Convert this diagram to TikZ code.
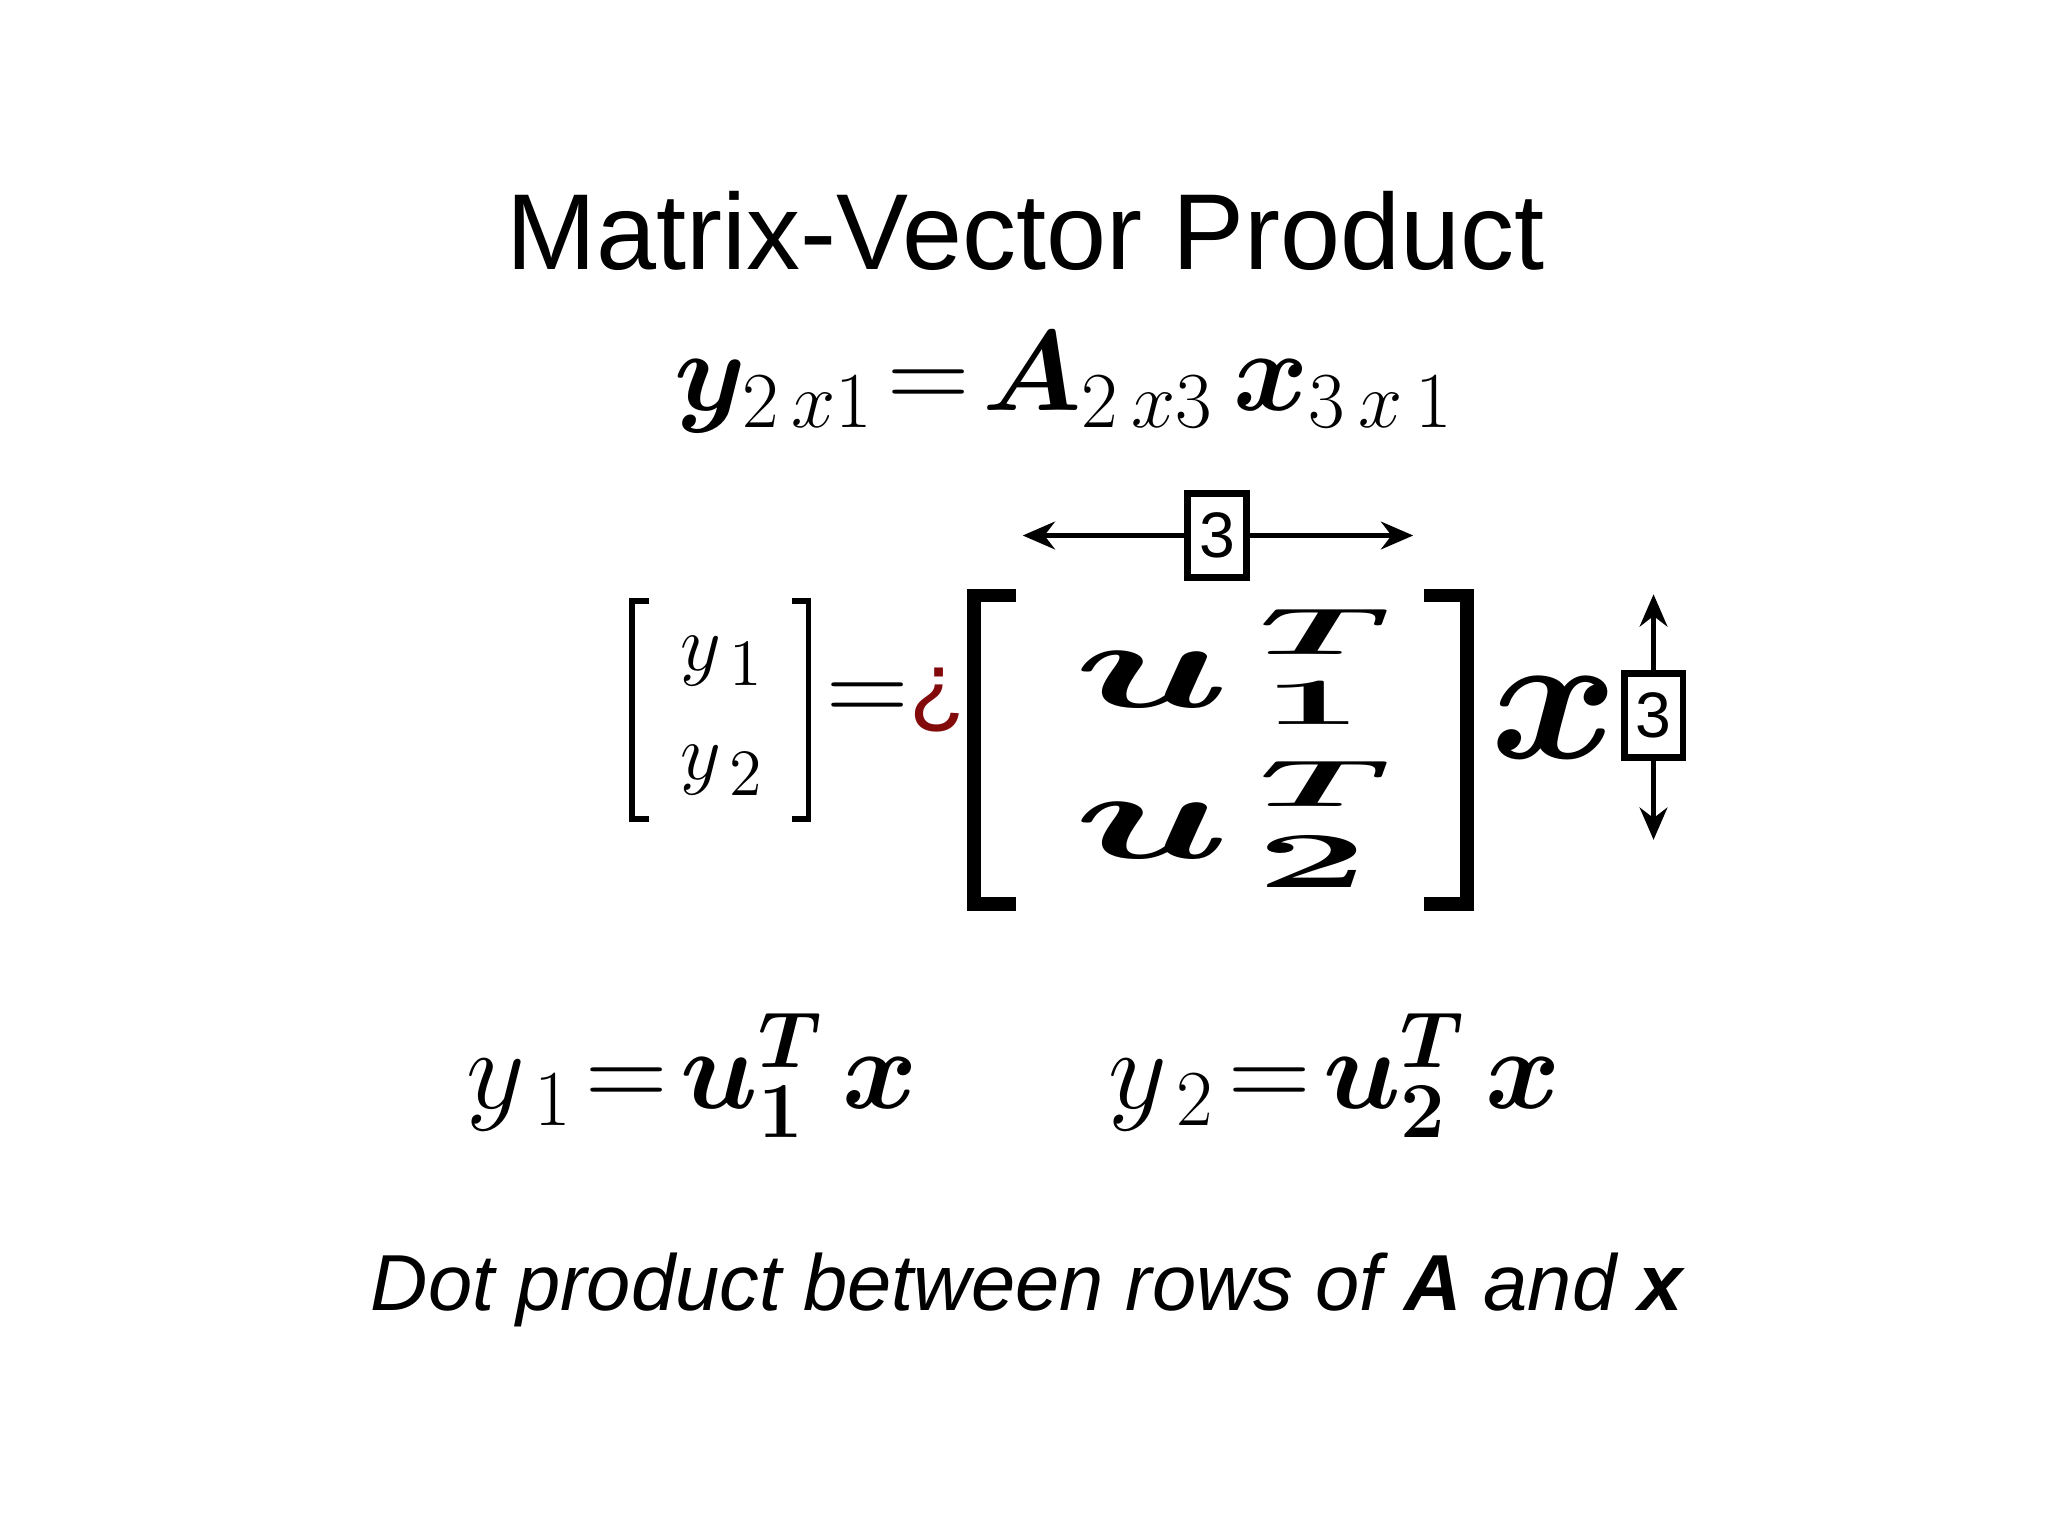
\documentclass[tikz,border=0pt]{standalone}
\usepackage{fontspec}
\setmainfont{Liberation Sans}
\usepackage{amsmath,bm,graphicx}
\usetikzlibrary{arrows.meta}
\definecolor{qred}{RGB}{130,10,10}
\begin{document}
\begin{tikzpicture}[x=0.01cm,y=-0.01cm,
  t/.style={inner sep=0pt,anchor=center},
  br/.style={line width=3pt},
  brs/.style={line width=1.3pt},
  dim/.style={line width=1.2pt,-{Stealth[length=7pt,width=6pt]}},
  numbox/.style={draw,line width=1.5pt,minimum width=0.45cm,minimum height=0.64cm,inner sep=0pt,font=\fontsize{14}{14}\selectfont,fill=white}]
\useasboundingbox (0,0) rectangle (1568,1176);
\node[t] (title) at (785,177) {\fontsize{23.5}{23.5}\selectfont Matrix-Vector Product};
\node[t] (eq) at (815,293) {\fontsize{25}{25}\selectfont $\bm{y}_{2\,x1}\!=\!\bm{A}_{2\,x3}\,\bm{x}_{3\,x\,1}$};
% small bracket
\draw[brs] (497,460) -- (484,460) -- (484,627) -- (497,627);
\draw[brs] (606,460) -- (619,460) -- (619,627) -- (606,627);
\node[t] (y1) at (553,506) {\fontsize{19}{19}\selectfont $y_{\,1}$};
\node[t] (y2) at (553,590) {\fontsize{19}{19}\selectfont $y_{\,2}$};
\node[t] (eqs) at (664,538) {\fontsize{24}{24}\selectfont $=$};
\node[t,text=qred] (q) at (718,536) {\fontsize{20}{20}\selectfont ¿};
% big bracket
\draw[br] (778,456) -- (746,456) -- (746,692) -- (778,692);
\draw[br] (1090,456) -- (1123,456) -- (1123,692) -- (1090,692);
\node[t] (u1) at (882,520) {\scalebox{2}[1.1]{\fontsize{34}{34}\selectfont $\bm{u}$}};
\node[t] (u2) at (882,636) {\scalebox{2}[1.1]{\fontsize{34}{34}\selectfont $\bm{u}$}};
\node[t] (T1) at (1015,484) {\scalebox{2.5}[1]{\fontsize{14}{14}\selectfont $\bm{T}$}};
\node[t] (n1) at (1005,538) {\scalebox{2.7}[1]{\fontsize{15}{15}\selectfont $\bm{1}$}};
\node[t] (T2) at (1015,600) {\scalebox{2.5}[1]{\fontsize{14}{14}\selectfont $\bm{T}$}};
\node[t] (n2) at (1005,660) {\scalebox{2.5}[1]{\fontsize{16}{16}\selectfont $\bm{2}$}};
\node[t] (xv) at (1190,550) {\scalebox{1.7}[1.6]{\fontsize{30}{30}\selectfont $\bm{x}$}};
% dimensions
\coordinate (hl) at (783,410); \coordinate (hr) at (1082,410);
\node[numbox] (b3h) at (932,410) {3};
\draw[dim] (b3h.west) -- (hl);
\draw[dim] (b3h.east) -- (hr);
\coordinate (vt) at (1266,455); \coordinate (vb) at (1266,643);
\node[numbox] (b3v) at (1266,548) {3};
\draw[dim] (b3v.north) -- (vt);
\draw[dim] (b3v.south) -- (vb);
% bottom equations
\node[t] (e1) at (530,823) {\fontsize{25}{25}\selectfont $y_{\,1}\!=\!\bm{u}_{\bm{1}}^{\bm{T}}\,\bm{x}$};
\node[t] (e2) at (1022,823) {\fontsize{25}{25}\selectfont $y_{\,2}\!=\!\bm{u}_{\bm{2}}^{\bm{T}}\,\bm{x}$};
\node[t] (cap) at (786,988) {\fontsize{17.3}{17.3}\selectfont\itshape Dot product between rows of \textbf{A} and \textbf{x}};
\end{tikzpicture}
\end{document}
